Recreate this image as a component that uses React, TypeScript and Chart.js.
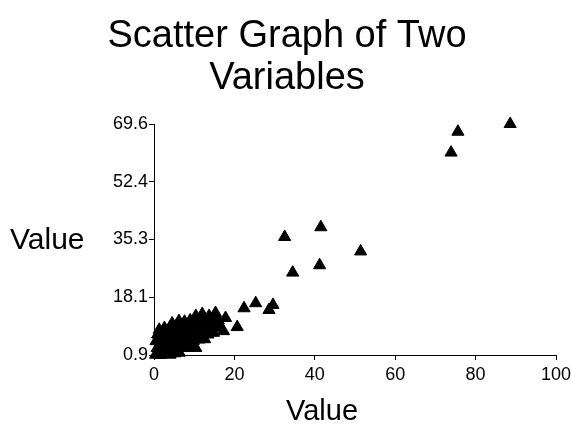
import React, { useEffect, useRef } from 'react';
import { Chart, registerables } from 'chart.js';

Chart.register(...registerables);

const TITLE_LINES = ['Scatter Graph of Two', 'Variables'];
const X_TITLE = 'Value';
const Y_TITLE = 'Value';
const Y_TICKS = [0.9, 18.1, 35.3, 52.4, 69.6];
const X_TICKS = [0, 20, 40, 60, 80, 100];

const xValues = [
  0.4, 1.5, 2.8, 4.0, 5.2, 6.3,
  0.8, 2.0, 3.4, 4.7, 6.0, 7.4, 8.8, 10.4,
  0.5, 1.7, 3.0, 4.3, 5.7, 7.0, 8.4, 9.8, 11.2, 12.6,
  0.9, 2.3, 3.6, 5.0, 6.4, 7.8, 9.2, 10.6, 12.0, 13.4, 14.8,
  1.3, 2.6, 4.0, 5.4, 6.8, 8.2, 9.6, 11.0, 12.4, 13.8, 15.2, 16.5, 17.3, 20.7,
  4.5, 6.2, 7.6, 9.0, 10.4, 11.8, 13.2, 14.6, 16.0, 17.8,
  10.4, 12.0, 13.7, 15.3,
  22.4, 25.3, 28.6, 29.6, 32.5, 34.5, 41.2, 41.5, 51.4, 73.9, 75.6, 88.6,
];
const yValues = [
  1.0, 0.9, 1.2, 1.0, 1.4, 1.6,
  3.0, 2.8, 3.3, 2.9, 3.4, 3.0, 3.2, 3.0,
  5.0, 4.8, 5.3, 4.9, 5.2, 5.0, 5.4, 5.1, 5.5, 5.6,
  7.0, 6.8, 7.2, 7.0, 7.3, 7.0, 7.4, 7.1, 7.3, 7.0, 7.5,
  8.4, 8.9, 9.0, 9.3, 9.0, 9.4, 9.1, 9.5, 9.2, 9.6, 9.3, 9.0, 8.0, 9.2,
  10.3, 11.0, 10.8, 11.2, 11.0, 11.4, 11.1, 11.5, 11.2, 11.9,
  12.5, 13.1, 12.5, 13.4,
  14.8, 16.3, 14.3, 15.8, 36.0, 25.4, 27.6, 38.9, 31.7, 61.1, 67.3, 69.6,
];

const FONT = '"Liberation Sans", Arial, sans-serif';

const textPlugin = {
  id: 'staticTexts',
  afterDraw(chart: any) {
    const ctx = chart.ctx as CanvasRenderingContext2D;
    ctx.save();
    ctx.fillStyle = '#000';
    ctx.textBaseline = 'alphabetic';
    ctx.textAlign = 'center';
    ctx.font = `38px ${FONT}`;
    ctx.fillText(TITLE_LINES[0], 287, 47);
    ctx.fillText(TITLE_LINES[1], 287, 89);
    ctx.font = `30px ${FONT}`;
    ctx.textAlign = 'left';
    ctx.fillText(Y_TITLE, 10, 249);
    ctx.font = `29px ${FONT}`;
    ctx.textAlign = 'center';
    ctx.fillText(X_TITLE, 322, 420);
    ctx.restore();
  },
};

export default function App() {
  const ref = useRef<HTMLCanvasElement | null>(null);

  useEffect(() => {
    if (!ref.current) return;
    const data = xValues.map((x, i) => ({ x, y: yValues[i] }));
    const chart = new Chart(ref.current, {
      type: 'scatter',
      data: {
        datasets: [
          {
            data,
            pointStyle: 'triangle',
            pointRadius: 7,
            backgroundColor: '#000',
            borderColor: '#000',
            borderWidth: 1,
            clip: false as any,
          },
        ],
      },
      options: {
        responsive: false,
        animation: false,
        layout: { padding: { left: 0, top: 124, right: 15, bottom: 0 } },
        plugins: {
          legend: { display: false },
          title: { display: false },
          tooltip: { enabled: false },
        },
        scales: {
          x: {
            type: 'linear',
            min: 0,
            max: 100,
            afterBuildTicks: (s: any) => {
              s.ticks = X_TICKS.map((v) => ({ value: v }));
            },
            afterFit: (s: any) => {
              s.height = 69;
              s.paddingLeft = 0;
              s.paddingRight = 0;
            },
            grid: { display: true, drawOnChartArea: false, drawTicks: true, tickLength: 5, color: '#000' },
            border: { display: true, color: '#000', width: 1 },
            ticks: { color: '#000', font: { family: FONT, size: 18 }, padding: 4, maxRotation: 0, autoSkip: false },
          },
          y: {
            type: 'linear',
            min: 0.9,
            max: 69.6,
            afterBuildTicks: (s: any) => {
              s.ticks = Y_TICKS.map((v) => ({ value: v }));
            },
            afterFit: (s: any) => {
              s.width = 154;
              s.paddingTop = 0;
              s.paddingBottom = 0;
            },
            grid: { display: true, drawOnChartArea: false, drawTicks: true, tickLength: 5, color: '#000' },
            border: { display: true, color: '#000', width: 1 },
            ticks: {
              color: '#000',
              font: { family: FONT, size: 18 },
              padding: 1,
              autoSkip: false,
              callback: (v: any) => Number(v).toFixed(1),
            },
          },
        },
      },
      plugins: [textPlugin],
    });
    return () => chart.destroy();
  }, []);

  return (
    <div style={{ position: 'fixed', left: 0, top: 0, width: 571, height: 424, background: '#fff' }}>
      <canvas ref={ref} width={571} height={424} style={{ display: 'block' }} />
    </div>
  );
}
